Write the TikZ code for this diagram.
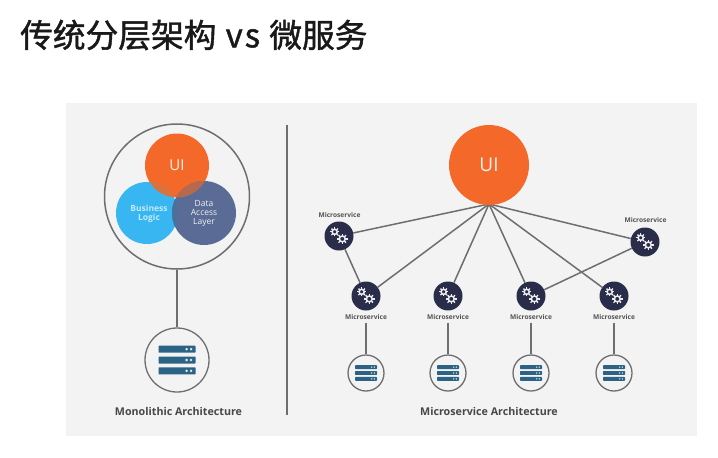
\documentclass[tikz,border=0pt]{standalone}
\usepackage{fontspec}
\setmainfont{Open Sans}
\newfontfamily\cjk[FakeBold=1.3]{Noto Sans CJK SC}
\definecolor{panel}{HTML}{F3F3F4}
\definecolor{uiorange}{HTML}{F4682A}
\definecolor{bizblue}{HTML}{38B6F1}
\definecolor{dalblue}{HTML}{5A6C96}
\definecolor{navy}{HTML}{2A2D49}
\definecolor{srv}{HTML}{2C6384}
\definecolor{wire}{HTML}{6E6E70}
\definecolor{ovA}{HTML}{D8733F}
\definecolor{ovB}{HTML}{4C7099}
\definecolor{ovC}{HTML}{B5694F}
\pgfdeclarelayer{panelbg}\pgfdeclarelayer{wires}
\pgfsetlayers{panelbg,wires,main}
\newcommand{\onegear}[3]{%
 \foreach \a in {0,45,...,315}{\draw[white!92!navy,line width=1.3pt] ({#1+#3*0.7*cos(\a)},{#2+#3*0.7*sin(\a)})--({#1+#3*1.12*cos(\a)},{#2+#3*1.12*sin(\a)});}
 \draw[white!92!navy,line width=1.5pt] (#1,#2) circle[radius=#3*0.62];}
\newcommand{\msnode}[3]{%
 \node[msdot] (#1) at (#2,#3) {};
 \onegear{#2-4.3}{#3-4.2}{4.1}
 \onegear{#2+3.3}{#3+2.9}{4.7}}
\newcommand{\srvbars}[4]{% x y halfwidth barheight
 \foreach \d in {-1,0,1}{%
  \fill[srv,rounded corners=0.6pt] ({#1-#3},{#2+\d*(#4*1.55)-#4/2}) rectangle ({#1+#3},{#2+\d*(#4*1.55)+#4/2});
  \fill[white!85!srv] ({#1+#3*0.52},{#2+\d*(#4*1.55)}) circle[radius=#4*0.2];
  \fill[white!85!srv] ({#1+#3*0.76},{#2+\d*(#4*1.55)}) circle[radius=#4*0.2];}}
\tikzset{
 wireline/.style={draw=wire,line width=1.5pt},
 msdot/.style={circle,fill=navy,draw=none,minimum size=29pt,inner sep=0pt},
 srvsmall/.style={circle,draw=wire,fill=panel,line width=1.3pt,minimum size=36pt,inner sep=0pt},
 srvbig/.style={circle,draw=wire,fill=panel,line width=1.3pt,minimum size=64pt,inner sep=0pt},
 mslabel/.style={font=\fontsize{6.6}{8}\selectfont\bfseries,text=black!68,inner sep=0pt},
 archlabel/.style={font=\fontsize{10.7}{12}\selectfont\bfseries,text=black!72,inner sep=0pt},
 venn/.style={circle,draw=none,inner sep=0pt,text=white,align=center}
}
\begin{document}
\begin{tikzpicture}[x=1pt,y=-1pt]
\useasboundingbox (0,0) rectangle (718,458);
\begin{pgfonlayer}{panelbg}
\fill[white] (0,0) rectangle (718,458);
\fill[panel] (66,103) rectangle (697,436);
\end{pgfonlayer}
\node[anchor=west,inner sep=0pt,font=\cjk\fontsize{32.7}{36}\selectfont,text=black!90] (title) at (20,35) {传统分层架构\hspace{2pt} v\hspace{2pt}s\hspace{2pt} 微服务};
% left
\node[circle,draw=wire,fill=panel,line width=1.5pt,minimum size=145pt,inner sep=0pt] (mono) at (177,196.5) {};
\node[venn,fill=uiorange,minimum size=64pt,font=\fontsize{14.5}{16}\selectfont] (lui) at (177,165.5) {};
\node[venn,fill=bizblue,minimum size=62pt] (biz) at (147,213) {};
\node[venn,fill=dalblue,minimum size=64pt] (dal) at (204,213) {};
\begin{scope}
\clip (177,165.5) circle[radius=32];
\fill[ovA] (147,213) circle[radius=31];
\end{scope}
\begin{scope}
\clip (147,213) circle[radius=31];
\fill[ovB] (204,213) circle[radius=32];
\end{scope}
\begin{scope}
\clip (177,165.5) circle[radius=32];
\fill[ovC] (204,213) circle[radius=32];
\end{scope}
\node[text=white!90!uiorange,inner sep=0pt,font=\fontsize{15}{17}\selectfont] at (177,165.5) {UI};
\node[text=white!70!bizblue,inner sep=0pt,align=center,font=\fontsize{8.5}{9}\selectfont\bfseries] at (149,213.5) {Business\\Logic};
\node[text=white!90!dalblue,inner sep=0pt,align=center,font=\fontsize{8.5}{9}\selectfont] at (204,213) {Data\\Access\\Layer};
\node[srvbig] (msrv) at (177,360) {};
\srvbars{177}{360}{18.5}{7}
\node[archlabel] (mlabel) at (178.5,411) {Monolithic Architecture};
\coordinate (divtop) at (287,125);
\coordinate (divbot) at (287,415);
% right
\node[circle,fill=uiorange,draw=none,minimum size=80pt,inner sep=0pt,text=white!92!uiorange,font=\fontsize{19}{21}\selectfont] (rui) at (489,165) {UI};
\coordinate (hub) at (489,204);
\msnode{m1}{339}{236}
\msnode{m2}{366}{296}
\msnode{m3}{448}{296}
\msnode{m4}{531}{296}
\msnode{m5}{614}{296}
\msnode{m6}{645}{242}
\node[mslabel] (l1) at (339.5,215.5) {Microservice};
\node[mslabel] (l6) at (645.5,220.5) {Microservice};
\node[mslabel] (l2) at (366,317) {Microservice};
\node[mslabel] (l3) at (448,317) {Microservice};
\node[mslabel] (l4) at (531,317) {Microservice};
\node[mslabel] (l5) at (614,317) {Microservice};
\node[srvsmall] (s2) at (366,373) {};
\node[srvsmall] (s3) at (448,373) {};
\node[srvsmall] (s4) at (531,373) {};
\node[srvsmall] (s5) at (614,373) {};
\srvbars{366}{373}{11}{3.8}
\srvbars{448}{373}{11}{3.8}
\srvbars{531}{373}{11}{3.8}
\srvbars{614}{373}{11}{3.8}
\node[archlabel] (rlabel) at (489,411) {Microservice Architecture};
\begin{pgfonlayer}{wires}
\draw[wireline] (mono) -- (msrv);
\draw[wireline] (divtop) -- (divbot);
\draw[wireline] (hub) -- (m1);
\draw[wireline] (hub) -- (m2);
\draw[wireline] (hub) -- (m3);
\draw[wireline] (hub) -- (m4);
\draw[wireline] (hub) -- (m5);
\draw[wireline] (hub) -- (m6);
\draw[wireline] (m1) -- (m2);
\draw[wireline] (m6) -- (m4);
\draw[wireline] (l2.south) ++(0,3) -- (s2);
\draw[wireline] (l3.south) ++(0,3) -- (s3);
\draw[wireline] (l4.south) ++(0,3) -- (s4);
\draw[wireline] (l5.south) ++(0,3) -- (s5);
\end{pgfonlayer}
\end{tikzpicture}
\end{document}
